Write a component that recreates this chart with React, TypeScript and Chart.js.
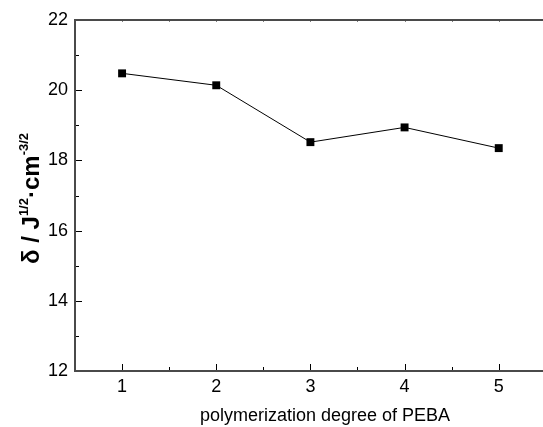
import React, { useEffect, useRef } from "react";
import { Chart, registerables } from "chart.js";

Chart.register(...registerables);

const degrees = [1, 2, 3, 4, 5];
const solubility = [20.48, 20.14, 18.52, 18.94, 18.35];
const xMajorTicks = [1, 2, 3, 4, 5];
const xMinorTicks = [1.5, 2.5, 3.5, 4.5];
const xTopTicks = [1, 1.5, 2, 2.5, 3, 3.5, 4, 4.5, 5];
const yMajorTicks = [12, 14, 16, 18, 20, 22];
const yMinorTicks = [13, 15, 17, 19, 21];
const xTitle = "polymerization degree of PEBA";

const FONT = "'Liberation Sans', Arial, sans-serif";

const framePlugin = {
  id: "frame",
  afterDraw(chart: any) {
    const ctx = chart.ctx;
    const { left, right, top, bottom } = chart.chartArea;
    const xs = chart.scales.x;
    const ys = chart.scales.y;
    ctx.save();
    // ticks
    ctx.strokeStyle = "#000";
    ctx.lineWidth = 1;
    ctx.beginPath();
    xMajorTicks.forEach((v) => {
      const px = Math.round(xs.getPixelForValue(v)) + 0.5;
      ctx.moveTo(px, bottom);
      ctx.lineTo(px, bottom - 7);
    });
    xMinorTicks.forEach((v) => {
      const px = Math.round(xs.getPixelForValue(v)) + 0.5;
      ctx.moveTo(px, bottom);
      ctx.lineTo(px, bottom - 4);
    });
    xTopTicks.forEach((v) => {
      const px = Math.round(xs.getPixelForValue(v)) + 0.5;
      ctx.moveTo(px, top - 1);
      ctx.lineTo(px, top + 1.5);
    });
    yMajorTicks.forEach((v) => {
      const py = Math.round(ys.getPixelForValue(v)) + 0.5;
      ctx.moveTo(left, py);
      ctx.lineTo(left + 7, py);
    });
    yMinorTicks.forEach((v) => {
      const py = Math.round(ys.getPixelForValue(v)) + 0.5;
      ctx.moveTo(left, py);
      ctx.lineTo(left + 4, py);
    });
    ctx.stroke();
    // frame lines
    ctx.strokeStyle = "#4a4a4a";
    ctx.lineWidth = 2;
    ctx.beginPath();
    ctx.moveTo(left, top);
    ctx.lineTo(right, top);
    ctx.moveTo(left, top - 1);
    ctx.lineTo(left, bottom + 1);
    ctx.moveTo(left, bottom);
    ctx.lineTo(right, bottom);
    ctx.stroke();

    // x title
    ctx.fillStyle = "#000";
    ctx.font = `18px ${FONT}`;
    ctx.textAlign = "center";
    ctx.textBaseline = "alphabetic";
    ctx.fillText(xTitle, 325, 421);

    // y title (rotated, with superscripts)
    const parts = [
      { t: "δ / J", size: 24, shift: 0 },
      { t: "1/2", size: 13, shift: 11 },
      { t: "·cm", size: 24, shift: 0 },
      { t: "-3/2", size: 13, shift: 11 },
    ];
    let total = 0;
    parts.forEach((p) => {
      ctx.font = `bold ${p.size}px ${FONT}`;
      total += ctx.measureText(p.t).width;
    });
    ctx.translate(39, 198.5);
    ctx.rotate(-Math.PI / 2);
    ctx.textAlign = "left";
    let cx = -total / 2;
    parts.forEach((p) => {
      ctx.font = `bold ${p.size}px ${FONT}`;
      ctx.fillText(p.t, cx, -p.shift);
      cx += ctx.measureText(p.t).width;
    });
    ctx.restore();
  },
};

export default function App() {
  const ref = useRef<HTMLCanvasElement>(null);
  useEffect(() => {
    document.body.style.margin = "0";
    document.body.style.overflow = "hidden";
    const canvas = ref.current!;
    const chart = new Chart(canvas, {
      type: "line",
      data: {
        datasets: [
          {
            data: degrees.map((d, i) => ({ x: d, y: solubility[i] })),
            borderColor: "#000",
            backgroundColor: "#000",
            borderWidth: 1,
            pointStyle: "rect",
            pointRadius: 5.6,
            pointBorderWidth: 0,
            pointBackgroundColor: "#000",
            tension: 0,
          },
        ],
      },
      options: {
        animation: false,
        responsive: false,
        layout: { autoPadding: false, padding: { top: 20, right: 0, left: 0, bottom: 0 } },
        plugins: { legend: { display: false }, tooltip: { enabled: false } },
        scales: {
          x: {
            type: "linear",
            min: 0.5,
            max: 5.47,
            afterBuildTicks: (s: any) => {
              s.ticks = xMajorTicks.map((v) => ({ value: v }));
            },
            afterFit: (s: any) => {
              s.height = 56;
              s.paddingLeft = 0;
              s.paddingRight = 0;
            },
            grid: { display: false, drawTicks: false },
            border: { display: false },
            ticks: {
              color: "#000",
              font: { size: 18, family: FONT },
              padding: 5,
              maxRotation: 0,
              autoSkip: false,
            },
          },
          y: {
            type: "linear",
            min: 12,
            max: 22,
            afterBuildTicks: (s: any) => {
              s.ticks = yMajorTicks.map((v) => ({ value: v }));
            },
            afterFit: (s: any) => {
              s.width = 75;
              s.paddingTop = 0;
              s.paddingBottom = 0;
            },
            grid: { display: false, drawTicks: false },
            border: { display: false },
            ticks: {
              color: "#000",
              font: { size: 18, family: FONT },
              padding: 7,
            },
          },
        },
      },
      plugins: [framePlugin],
    } as any);
    return () => chart.destroy();
  }, []);
  return (
    <div style={{ width: 543, height: 427, background: "#fff" }}>
      <canvas ref={ref} width={543} height={427} style={{ display: "block" }} />
    </div>
  );
}
